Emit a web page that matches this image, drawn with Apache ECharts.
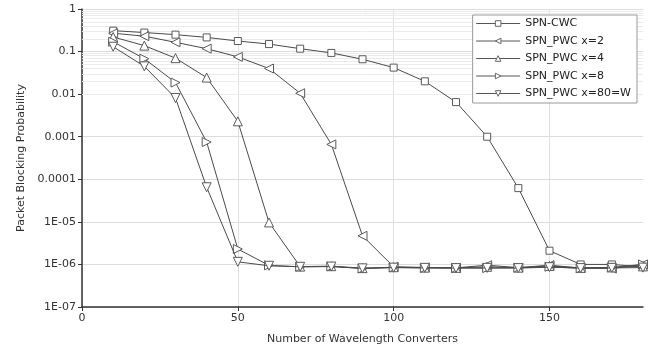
<!DOCTYPE html>
<html><head><meta charset="utf-8">
<script src="https://cdn.jsdelivr.net/npm/echarts@6/dist/echarts.min.js"></script>
<style>html,body{margin:0;padding:0;background:#fff}#c{width:655px;height:350px}</style>
</head><body><div id="c"></div>
<script>
const xValues = [10,20,30,40,50,60,70,80,90,100,110,120,130,140,150,160,170,180];
const seriesNames = ['SPN-CWC','SPN_PWC x=2','SPN_PWC x=4','SPN_PWC x=8','SPN_PWC x=80=W'];
const cwc  = [0.31,0.28,0.25,0.215,0.177,0.15,0.117,0.093,0.066,0.042,0.02,0.0065,0.001,6.2e-5,2.1e-6,1.0e-6,1.0e-6,8.7e-7];
const pwc2 = [0.27,0.23,0.165,0.117,0.075,0.04,0.0105,6.6e-4,4.7e-6,8.8e-7,8.5e-7,8.3e-7,9.6e-7,8.4e-7,9.6e-7,8.2e-7,8.0e-7,1.0e-6];
const pwc4 = [0.22,0.138,0.07,0.0245,0.0023,9.7e-6,8.9e-7,9.1e-7,8.2e-7,8.6e-7,8.4e-7,8.3e-7,8.8e-7,8.4e-7,9.2e-7,8.3e-7,8.5e-7,9.0e-7];
const pwc8 = [0.17,0.068,0.0187,7.5e-4,2.3e-6,9.5e-7,8.8e-7,9.0e-7,8.0e-7,8.5e-7,8.3e-7,8.3e-7,8.2e-7,8.4e-7,8.8e-7,8.1e-7,8.5e-7,1.0e-6];
const pwc80 = [0.13,0.045,0.0081,6.5e-5,1.15e-6,9.3e-7,8.8e-7,8.9e-7,8.1e-7,8.4e-7,8.3e-7,8.2e-7,8.3e-7,8.2e-7,8.6e-7,8.2e-7,8.3e-7,8.4e-7];
const yTickLabels = ['1','0.1','0.01','0.001','0.0001','1E-05','1E-06','1E-07'];
const xLabelValues = [0,50,100,150];

const allData = [cwc,pwc2,pwc4,pwc8,pwc80];
const symbols = [['rect',0,7],['triangle',90,9],['triangle',0,9],['triangle',-90,9],['triangle',180,9]];

const minorLines = [];
for (let e=-7; e<0; e++) for (let k=2; k<=9; k++) minorLines.push({yAxis: k*Math.pow(10,e)});

function fmtY(v){
  const e = Math.round(Math.log10(v));
  return yTickLabels[-e] || '';
}

const font = 'DejaVu Sans';
const series = [{
  type:'line', data:[], silent:true, animation:false, z:0,
  markLine:{silent:true, z:1, symbol:['none','none'], label:{show:false}, animation:false,
    lineStyle:{color:'#ebebeb', type:'solid', width:1}, emphasis:{disabled:true}, data:minorLines}
}];
seriesNames.forEach((n,i)=>{
  series.push({
    name:n, type:'line', animation:false,
    data: xValues.map((x,j)=>[x, allData[i][j]]),
    symbol: symbols[i][0], symbolRotate: symbols[i][1], symbolSize: symbols[i][2],
    showAllSymbol:true,
    lineStyle:{color:'#4a4a4a', width:1},
    itemStyle:{color:'#ffffff', borderColor:'#5a5a5a', borderWidth:1},
    z: 2+i
  });
});

const chart = echarts.init(document.getElementById('c'), null, {renderer:'canvas'});
chart.setOption({
  animation:false,
  textStyle:{fontFamily:font},
  grid:{left:82, right:12, top:9, bottom:40, containLabel:false},
  legend:{
    data: seriesNames, orient:'vertical', right:18, top:15, z:20,
    backgroundColor:'#fff', borderColor:'#999', borderWidth:1,
    padding:[3,6,4,3], itemWidth:44, itemHeight:7, itemGap:6.5,
    itemStyle:{color:'#ffffff', borderColor:'#666', borderWidth:1},
    lineStyle:{color:'#555', width:1},
    textStyle:{fontFamily:font, fontSize:11, color:'#222'},
    inactiveColor:'#222'
  },
  xAxis:{
    type:'value', min:0, max:180, interval:10,
    name:'Number of Wavelength Converters', nameLocation:'middle', nameGap:27,
    nameTextStyle:{fontFamily:font, fontSize:11, color:'#333'},
    axisLine:{lineStyle:{color:'#333', width:1.5}},
    axisTick:{show:true, customValues:xLabelValues, length:4, lineStyle:{color:'#333'}},
    axisLabel:{customValues:xLabelValues, fontFamily:font, fontSize:11, color:'#333', margin:6},
    splitLine:{show:true, lineStyle:{color:'#e0e0e0', width:1}}
  },
  yAxis:{
    type:'log', logBase:10, min:1e-7, max:1,
    name:'Packet Blocking Probability', nameLocation:'middle', nameGap:53,
    nameTextStyle:{fontFamily:font, fontSize:11, color:'#333'},
    axisLine:{show:true, lineStyle:{color:'#333', width:1.5}},
    axisTick:{show:true, length:4, lineStyle:{color:'#333'}},
    axisLabel:{formatter:fmtY, fontFamily:font, fontSize:11, color:'#333', margin:6},
    splitLine:{show:true, lineStyle:{color:'#dcdcdc', width:1}}
  },
  series: series
});
</script></body></html>
